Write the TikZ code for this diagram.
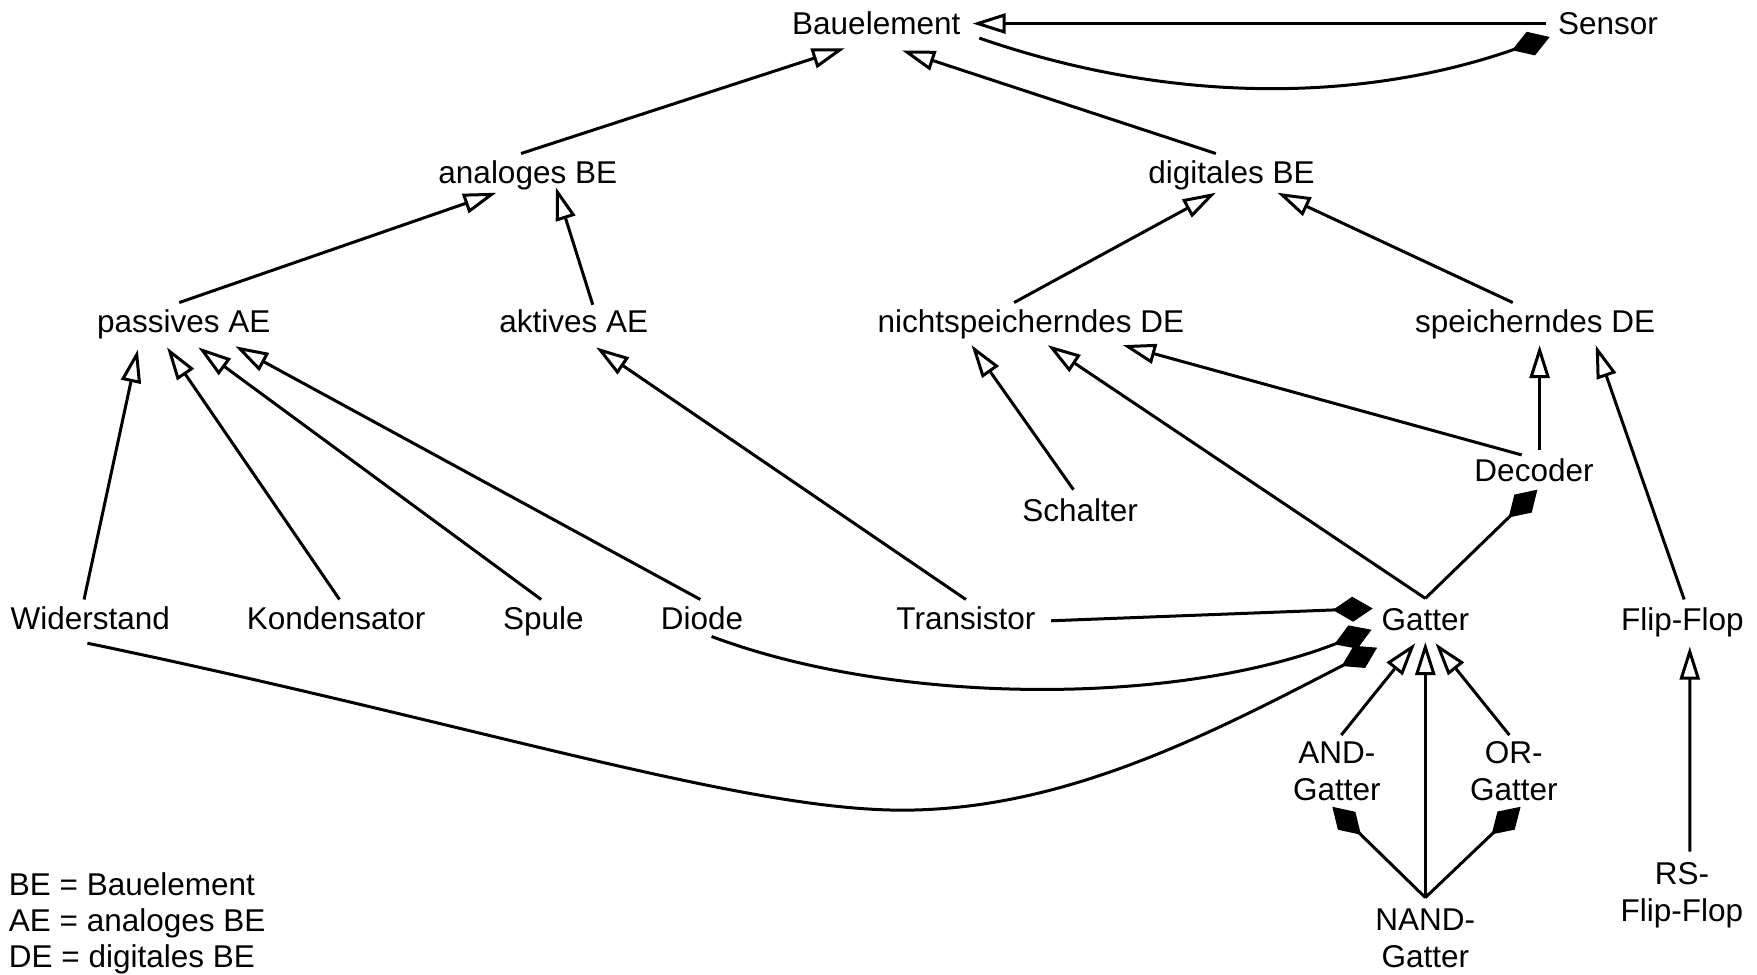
\documentclass[tikz,border=0pt]{standalone}
\usepackage{fontspec}
\setmainfont{Liberation Sans}
\usetikzlibrary{arrows.meta}
\begin{document}
\begin{tikzpicture}[x=1.1205pt,y=-1.1205pt,
  lbl/.style={inner sep=0pt, outer sep=0pt, font=\fontsize{31.5pt}{37pt}\selectfont, text height=22.5pt, text depth=0pt},
  two/.style={inner sep=0pt, outer sep=0pt, align=center, font=\fontsize{31.5pt}{37pt}\selectfont},
  leg/.style={lbl, anchor=west},
  gen/.style={-{Triangle[open,length=33pt,width=20pt]}, line width=3pt},
  comp/.style={-{Diamond[length=40pt,width=25pt]}, line width=3pt}]
\useasboundingbox (0,0) rectangle (1568,870);

% nodes
\node[lbl] (Bau) at (782,21) {Bauelement};
\node[lbl] (Sen) at (1435,21) {Sensor};
\node[lbl] (aBE) at (471,154) {analoges BE};
\node[lbl] (dBE) at (1099,154) {digitales BE};
\node[lbl] (pAE) at (164,287) {passives AE};
\node[lbl] (kAE) at (512,287) {aktives AE};
\node[lbl] (nDE) at (920,287) {nichtspeicherndes DE};
\node[lbl] (sDE) at (1370,287) {speicherndes DE};
\node[lbl] (Dec) at (1369,420) {Decoder};
\node[lbl] (Sch) at (964,455) {Schalter};
\node[lbl] (Wid) at (80.5,552) {Widerstand};
\node[lbl] (Kon) at (300,552) {Kondensator};
\node[lbl] (Spu) at (485,552) {Spule};
\node[lbl] (Dio) at (626.5,552) {Diode};
\node[lbl] (Tra) at (862,552) {Transistor};
\node[lbl] (Gat) at (1272,553) {Gatter};
\node[lbl] (FF) at (1501.5,553) {Flip-Flop};
\node[two] (AND) at (1193,688) {AND-\\Gatter};
\node[two] (OR) at (1351,688) {OR-\\Gatter};
\node[two] (NAND) at (1272,837) {NAND-\\Gatter};
\node[two] (RS) at (1501,799) {RS-\\Flip-Flop};
\node[leg] (leg1) at (8,789) {BE = Bauelement};
\node[leg] (leg2) at (8,821) {AE = analoges BE};
\node[leg] (leg3) at (8,853) {DE = digitales BE};

% generalisations
\draw[gen] ([shift={(-55,0)}]Sen.center) -- ([shift={(86,0)}]Bau.center);
\draw[gen] ([shift={(-6,-17)}]aBE.center) -- ([shift={(-28,22)}]Bau.center);
\draw[gen] ([shift={(-14,-17)}]dBE.center) -- ([shift={(23,24)}]Bau.center);
\draw[gen] ([shift={(-4,-17)}]pAE.center) -- ([shift={(-28,18)}]aBE.center);
\draw[gen] ([shift={(17,-15)}]kAE.center) -- ([shift={(25,13)}]aBE.center);
\draw[gen] ([shift={(-15,-17)}]nDE.center) -- ([shift={(-14,18)}]dBE.center);
\draw[gen] ([shift={(-20,-17)}]sDE.center) -- ([shift={(41,18)}]dBE.center);
\draw[gen] ([shift={(-5.5,-17)}]Wid.center) -- ([shift={(-41,25)}]pAE.center);
\draw[gen] ([shift={(3,-17)}]Kon.center) -- ([shift={(-15,23)}]pAE.center);
\draw[gen] ([shift={(-2,-17)}]Spu.center) -- ([shift={(13,23)}]pAE.center);
\draw[gen] ([shift={(-1.5,-17)}]Dio.center) -- ([shift={(46,22)}]pAE.center);
\draw[gen] ([shift={(0,-17)}]Tra.center) -- ([shift={(20,23)}]kAE.center);
\draw[gen] ([shift={(-6,-18)}]Sch.center) -- ([shift={(-53,21)}]nDE.center);
\draw[gen] ([shift={(0,-19)}]Gat.center) -- ([shift={(15,21)}]nDE.center);
\draw[gen] ([shift={(-11,-14)}]Dec.center) -- ([shift={(82,21)}]nDE.center);
\draw[gen] ([shift={(5,-18)}]Dec.center) -- ([shift={(4,21)}]sDE.center);
\draw[gen] ([shift={(1.5,-18)}]FF.center) -- ([shift={(54,21)}]sDE.center);
\draw[gen] ([shift={(4,-32)}]AND.center) -- ([shift={(-9,21)}]Gat.center);
\draw[gen] ([shift={(0,-36)}]NAND.center) -- ([shift={(0,20)}]Gat.center);
\draw[gen] ([shift={(-4,-32)}]OR.center) -- ([shift={(9,21)}]Gat.center);
\draw[gen] ([shift={(7,-39)}]RS.center) -- ([shift={(6.5,24)}]FF.center);

% compositions
\draw[comp] ([shift={(92,13)}]Bau.center) .. controls (1050,95) and (1220,90) .. ([shift={(-52,12)}]Sen.center);
\draw[comp] ([shift={(0,-19)}]Gat.center) -- ([shift={(3,17)}]Dec.center);
\draw[comp] ([shift={(76,2)}]Tra.center) -- ([shift={(-47,-10)}]Gat.center);
\draw[comp] ([shift={(8.5,16)}]Dio.center) .. controls (800,630) and (1050,630) .. ([shift={(-48,9)}]Gat.center);
\draw[comp] ([shift={(-2.5,22)}]Wid.center) .. controls (420,645) and (660,723) .. (805,723) .. controls (950,723) and (1080,655) .. ([shift={(-43,25)}]Gat.center);
\draw[comp] ([shift={(0,-36)}]NAND.center) -- ([shift={(-4,32)}]AND.center);
\draw[comp] ([shift={(0,-36)}]NAND.center) -- ([shift={(6,32)}]OR.center);
\end{tikzpicture}
\end{document}
